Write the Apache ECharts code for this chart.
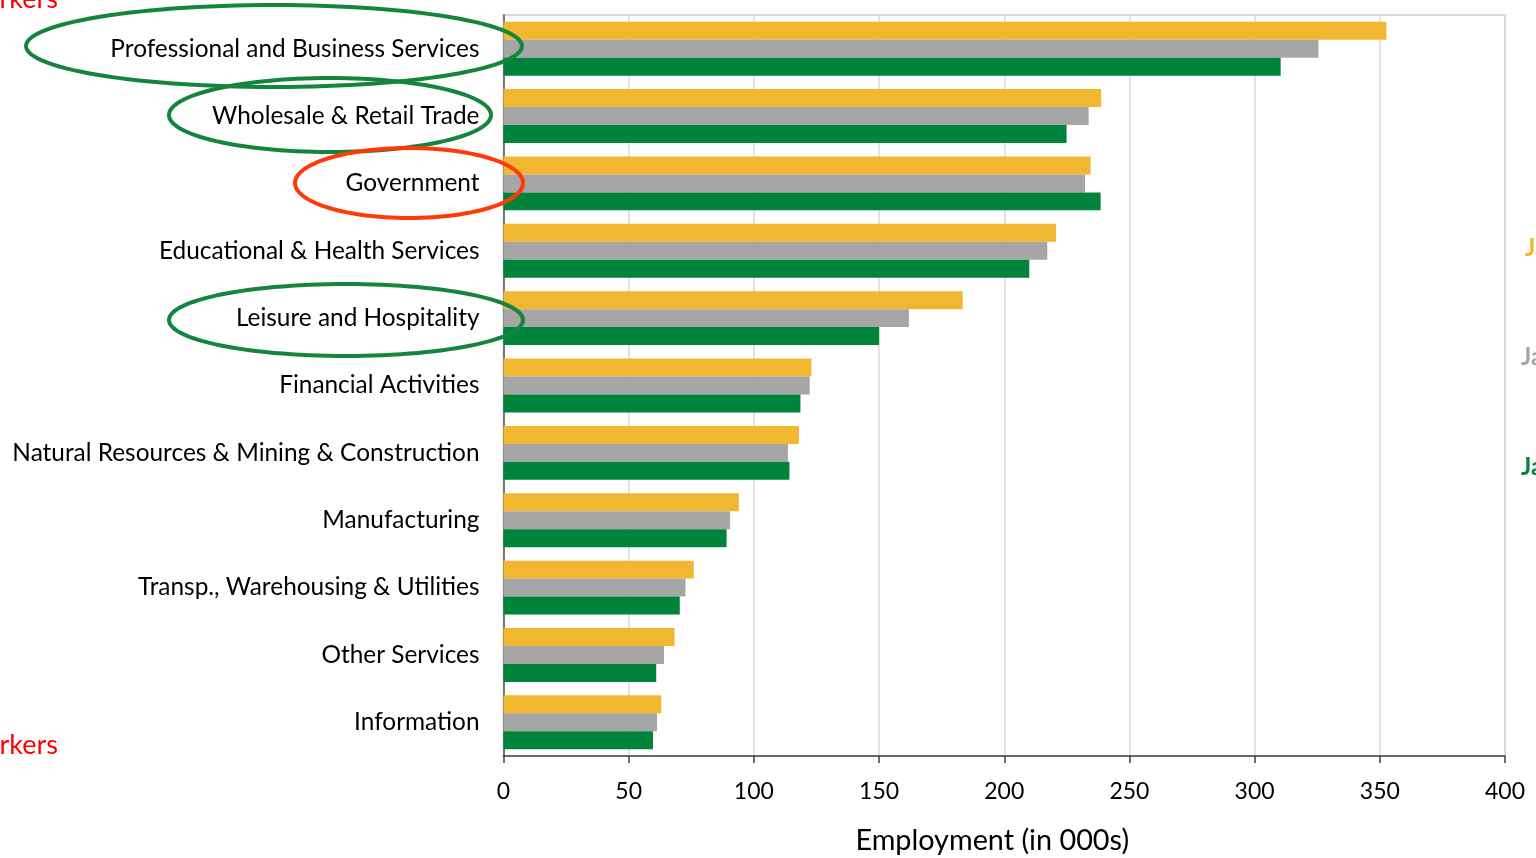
<!DOCTYPE html>
<html>
<head>
<meta charset="utf-8">
<script src="https://cdn.jsdelivr.net/npm/echarts@6/dist/echarts.min.js"></script>
<style>
  html, body { margin: 0; padding: 0; background: #fff; }
  #chart { width: 1536px; height: 858px; }
</style>
</head>
<body>
<div id="chart"></div>
<script>
// Sectors, largest first
const sectors = [
  'Professional and Business Services',
  'Wholesale & Retail Trade',
  'Government',
  'Educational & Health Services',
  'Leisure and Hospitality',
  'Financial Activities',
  'Natural Resources & Mining & Construction',
  'Manufacturing',
  'Transp., Warehousing & Utilities',
  'Other Services',
  'Information'
];

// Employment in thousands, one array per period
const seriesNames = ['Jan 2023', 'Jan 2022', 'Jan 2021'];
const empYellow = [352.6, 238.7, 234.5, 220.7, 183.4, 123.0, 118.0, 94.0, 76.0, 68.3, 63.0];
const empGray   = [325.5, 233.7, 232.3, 217.2, 161.9, 122.3, 113.6, 90.5, 72.7, 64.1, 61.3];
const empGreen  = [310.4, 224.9, 238.5, 210.0, 150.0, 118.6, 114.2, 89.1, 70.4, 61.0, 59.7];

const xTicks = [0, 50, 100, 150, 200, 250, 300, 350, 400];

const colors = ['#F2B731', '#A6A6A6', '#00833A'];
const FONT = 'Lato, "Open Sans", sans-serif';

// outline ellipses around highlighted sector names
function ellipsePoints(cx, cy, rx, ry) {
  const pts = [];
  for (let i = 0; i < 120; i++) {
    const t = (i / 120) * Math.PI * 2;
    pts.push([cx + rx * Math.cos(t), cy + ry * Math.sin(t)]);
  }
  return pts;
}
const rings = [
  { c: [274, 46], r: [248, 41], color: '#15853D' },
  { c: [330, 115], r: [161, 37], color: '#15853D' },
  { c: [409, 183], r: [114, 35], color: '#FF3A0A' },
  { c: [346, 320], r: [177, 36], color: '#15853D' }
];

const chart = echarts.init(document.getElementById('chart'), null, { renderer: 'canvas' });

const graphics = rings.map(e => ({
  type: 'polygon',
  shape: { points: ellipsePoints(e.c[0], e.c[1], e.r[0], e.r[1]) },
  style: { fill: 'none', stroke: e.color, lineWidth: 4 },
  z: 10
}));

// series key text on the right edge
const keyPos = [[1525, 248], [1521, 357], [1521, 467]];
seriesNames.forEach((n, i) => {
  graphics.push({
    type: 'text', x: keyPos[i][0], y: keyPos[i][1],
    style: { text: n, fill: colors[i], font: 'bold 24px ' + FONT, verticalAlign: 'middle' }
  });
});

// red side notes
graphics.push({
  type: 'text', x: 58, y: -1,
  style: { text: 'Added workers', fill: '#FF0000', font: '27px ' + FONT, align: 'right', verticalAlign: 'middle' }
});
graphics.push({
  type: 'text', x: 58, y: 745,
  style: { text: 'Lost workers', fill: '#FF0000', font: '27px ' + FONT, align: 'right', verticalAlign: 'middle' }
});

const makeSeries = (name, data, color) => ({
  name, type: 'bar', data,
  barGap: '0%', barCategoryGap: '20%',
  itemStyle: { color },
  animation: false
});

chart.setOption({
  animation: false,
  grid: {
    left: 503.5, right: 31, top: 15, bottom: 102,
    outerBoundsMode: 'none', containLabel: false,
    show: true, borderColor: '#D9D9D9', borderWidth: 2, backgroundColor: 'transparent'
  },
  xAxis: {
    type: 'value', min: xTicks[0], max: xTicks[xTicks.length - 1], interval: 50,
    axisLine: { show: true, lineStyle: { color: '#404040', width: 1.5 } },
    axisTick: { show: true, length: 7, lineStyle: { color: '#404040', width: 1.5 } },
    axisLabel: { color: '#000', fontSize: 23, fontFamily: FONT, margin: 24 },
    splitLine: { show: true, lineStyle: { color: '#D9D9D9', width: 1.5 } },
    name: 'Employment (in 000s)', nameLocation: 'middle', nameGap: 70,
    nameTextStyle: { color: '#000', fontSize: 28.8, fontFamily: FONT, padding: [0, 24, 0, 0] }
  },
  yAxis: {
    type: 'category', data: sectors, inverse: true,
    axisLine: { show: true, lineStyle: { color: '#595959', width: 1.5 } },
    axisTick: { show: false },
    axisLabel: { color: '#000', fontSize: 24.4, fontFamily: FONT, margin: 24, padding: [4, 0, 0, 0] },
    splitLine: { show: false }
  },
  series: [
    makeSeries(seriesNames[0], empYellow, colors[0]),
    makeSeries(seriesNames[1], empGray, colors[1]),
    makeSeries(seriesNames[2], empGreen, colors[2])
  ],
  graphic: graphics
});
</script>
</body>
</html>
